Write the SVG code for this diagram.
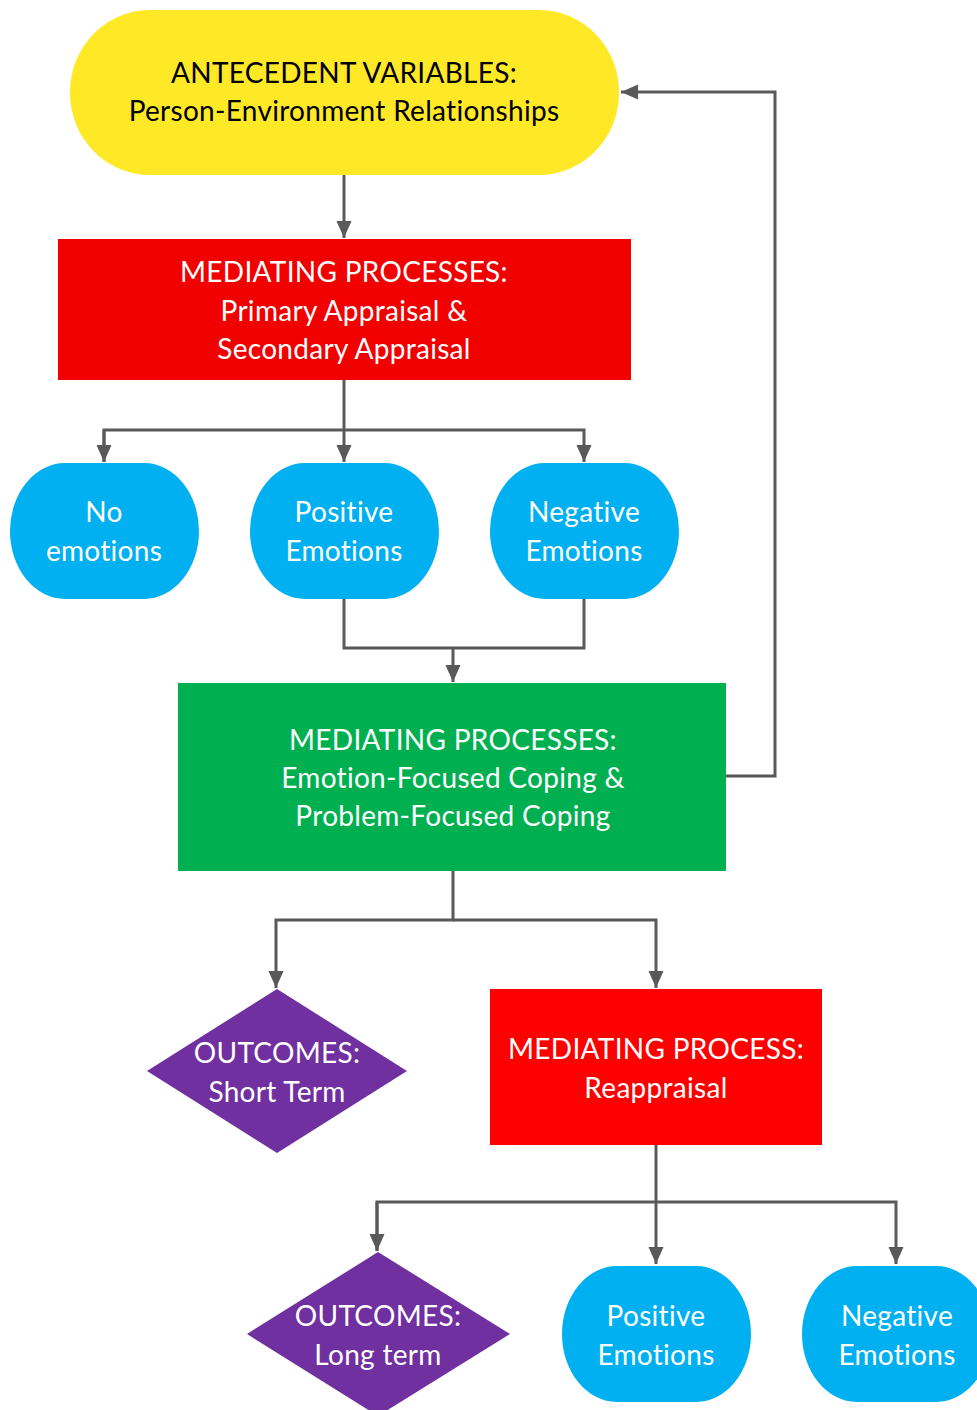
<svg xmlns="http://www.w3.org/2000/svg" width="977" height="1410" viewBox="0 0 977 1410">
<style>
.t{font-family:Lato,"Open Sans",sans-serif;font-size:28px;letter-spacing:0.3px;text-anchor:middle}
.w{fill:#fff}
.k{fill:#000}
.c{fill:none;stroke:#595959;stroke-width:3}
</style>
<defs>
<marker id="ah" markerUnits="userSpaceOnUse" markerWidth="20" markerHeight="20" viewBox="0 0 20 20" refX="17" refY="10" orient="auto">
<path d="M0,2.5 L17,10 L0,17.5 Z" fill="#595959"/>
</marker>
</defs>
<rect width="977" height="1410" fill="#fff"/>
<g id="connectors">
<path class="c" d="M344,175 V238" marker-end="url(#ah)"/>
<path class="c" d="M344,380 V462" marker-end="url(#ah)"/>
<path class="c" d="M104,462 V430 H584 V462" marker-end="url(#ah)"/>
<path class="c" d="M104,430 V462" marker-end="url(#ah)"/>
<path class="c" d="M344,599 V648 H584 V599"/>
<path class="c" d="M453,648 V682" marker-end="url(#ah)"/>
<path class="c" d="M726,776 H775 V92 H621" marker-end="url(#ah)"/>
<path class="c" d="M453,871 V920 H276 V988" marker-end="url(#ah)"/>
<path class="c" d="M453,920 H656 V988" marker-end="url(#ah)"/>
<path class="c" d="M656,1145 V1264" marker-end="url(#ah)"/>
<path class="c" d="M377,1251 V1202 H896 V1264" marker-end="url(#ah)"/>
<path class="c" d="M377,1202 V1251" marker-end="url(#ah)"/>
</g>
<g id="antecedent">
<rect x="70" y="10" width="549" height="165" rx="80" ry="82" fill="#FFE826"/>
<text class="t k" x="344" y="83">ANTECEDENT VARIABLES:</text>
<text class="t k" x="344" y="121">Person-Environment Relationships</text>
</g>
<g id="appraisal">
<rect x="58" y="239" width="573" height="141" fill="#F20000"/>
<text class="t w" x="344" y="282">MEDIATING PROCESSES:</text>
<text class="t w" x="344" y="321">Primary Appraisal &amp;</text>
<text class="t w" x="344" y="359">Secondary Appraisal</text>
</g>
<g id="no-emotions">
<rect x="10" y="463" width="189" height="136" rx="55" ry="68" fill="#00B0F0"/>
<text class="t w" x="104" y="522">No</text>
<text class="t w" x="104" y="561">emotions</text>
</g>
<g id="positive-1">
<rect x="250" y="463" width="189" height="136" rx="55" ry="68" fill="#00B0F0"/>
<text class="t w" x="344" y="522">Positive</text>
<text class="t w" x="344" y="561">Emotions</text>
</g>
<g id="negative-1">
<rect x="490" y="463" width="189" height="136" rx="55" ry="68" fill="#00B0F0"/>
<text class="t w" x="584" y="522">Negative</text>
<text class="t w" x="584" y="561">Emotions</text>
</g>
<g id="coping">
<rect x="178" y="683" width="548" height="188" fill="#00B050"/>
<text class="t w" x="453" y="750">MEDIATING PROCESSES:</text>
<text class="t w" x="453" y="788">Emotion-Focused Coping &amp;</text>
<text class="t w" x="453" y="826">Problem-Focused Coping</text>
</g>
<g id="outcome-short">
<polygon points="277,989 407,1071 277,1153 147,1071" fill="#7030A0"/>
<text class="t w" x="277" y="1063">OUTCOMES:</text>
<text class="t w" x="277" y="1102">Short Term</text>
</g>
<g id="reappraisal">
<rect x="490" y="989" width="332" height="156" fill="#FF0000"/>
<text class="t w" x="656" y="1059">MEDIATING PROCESS:</text>
<text class="t w" x="656" y="1098">Reappraisal</text>
</g>
<g id="outcome-long">
<polygon points="378,1252 510,1334 378,1416 247,1334" fill="#7030A0"/>
<text class="t w" x="378" y="1326">OUTCOMES:</text>
<text class="t w" x="378" y="1365">Long term</text>
</g>
<g id="positive-2">
<rect x="562" y="1266" width="189" height="136" rx="55" ry="68" fill="#00B0F0"/>
<text class="t w" x="656" y="1326">Positive</text>
<text class="t w" x="656" y="1365">Emotions</text>
</g>
<g id="negative-2">
<rect x="802" y="1266" width="189" height="136" rx="55" ry="68" fill="#00B0F0"/>
<text class="t w" x="897" y="1326">Negative</text>
<text class="t w" x="897" y="1365">Emotions</text>
</g>
</svg>
